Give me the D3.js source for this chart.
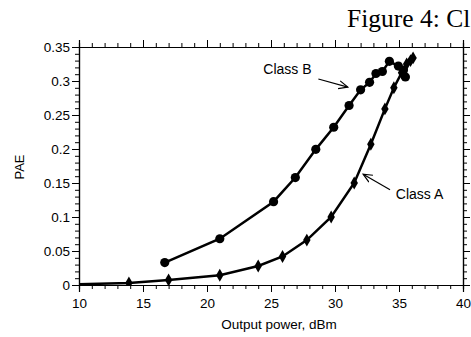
<!DOCTYPE html>
<html>
<head>
<meta charset="utf-8">
<script src="https://cdn.jsdelivr.net/npm/d3@7"></script>
<style>
  body { margin: 0; background: #fff; }
  svg { display: block; }
</style>
</head>
<body>
<div id="chart"></div>
<script>
// Class A (diamonds) and Class B (circles): output power in dBm, PAE
var classA_pout = [9, 13.9, 17.0, 21.0, 24.0, 25.9, 27.8, 29.7, 31.5, 32.8, 33.9, 34.6, 35.2, 35.6, 35.9, 36.1];
var classA_pae  = [0.0005, 0.003, 0.0074, 0.0143, 0.028, 0.042, 0.066, 0.100, 0.150, 0.207, 0.259, 0.290, 0.312, 0.325, 0.330, 0.334];
var classB_pout = [16.7, 21.0, 25.2, 26.9, 28.5, 29.9, 31.1, 32.0, 32.7, 33.2, 33.7, 34.25, 34.95, 35.35, 35.5];
var classB_pae  = [0.033, 0.068, 0.1225, 0.158, 0.1995, 0.232, 0.264, 0.287, 0.298, 0.311, 0.314, 0.329, 0.322, 0.316, 0.306];

var xTicks = [10, 15, 20, 25, 30, 35, 40];
var yTicks = [0, 0.05, 0.1, 0.15, 0.2, 0.25, 0.3, 0.35];

var W = 471, H = 337;
var margin = { left: 79, top: 47, right: 8, bottom: 52 };
var pw = W - margin.left - margin.right;
var ph = H - margin.top - margin.bottom;

var svg = d3.select('#chart').append('svg')
    .attr('width', W)
    .attr('height', H);

var xScale = d3.scaleLinear().domain([10, 40]).range([margin.left, margin.left + pw]);
var yScale = d3.scaleLinear().domain([0, 0.35]).range([margin.top + ph, margin.top]);

var sans = 'Arial, "Liberation Sans", Helvetica, sans-serif';

// title (cut off at the right edge like the original page)
svg.append('text')
    .attr('x', 347)
    .attr('y', 27)
    .style('font-family', '"Times New Roman", "Liberation Serif", serif')
    .style('font-size', '25.5px')
    .text('Figure 4: Cl');

var defs = svg.append('defs');
defs.append('clipPath')
    .attr('id', 'plotClip')
    .append('rect')
    .attr('x', margin.left)
    .attr('y', margin.top - 10)
    .attr('width', pw + 10)
    .attr('height', ph + 10);

// axes: major ticks labelled, minor ticks shorter, all pointing outward
var minorX = d3.range(10, 41, 1);
var minorY = d3.range(0, 0.3501, 0.01);

function tickFmt(d) { return d3.format('~g')(d); }

var gBottom = svg.append('g')
    .attr('transform', 'translate(0,' + (margin.top + ph) + ')');
gBottom.append('g').call(d3.axisBottom(xScale).tickValues(minorX).tickSize(4).tickFormat(''));
gBottom.append('g').call(d3.axisBottom(xScale).tickValues(xTicks).tickSize(7).tickPadding(6).tickFormat(tickFmt));

var gTop = svg.append('g')
    .attr('transform', 'translate(0,' + margin.top + ')');
gTop.append('g').call(d3.axisTop(xScale).tickValues(minorX).tickSize(4).tickFormat(''));
gTop.append('g').call(d3.axisTop(xScale).tickValues(xTicks).tickSize(7).tickFormat(''));

var gLeft = svg.append('g')
    .attr('transform', 'translate(' + margin.left + ',0)');
gLeft.append('g').call(d3.axisLeft(yScale).tickValues(minorY).tickSize(4).tickFormat(''));
gLeft.append('g').call(d3.axisLeft(yScale).tickValues(yTicks).tickSize(7).tickPadding(2).tickFormat(tickFmt));

var gRight = svg.append('g')
    .attr('transform', 'translate(' + (margin.left + pw) + ',0)');
gRight.append('g').call(d3.axisRight(yScale).tickValues(minorY).tickSize(4).tickFormat(''));
gRight.append('g').call(d3.axisRight(yScale).tickValues(yTicks).tickSize(7).tickFormat(''));

svg.selectAll('.domain').attr('stroke', '#000').attr('stroke-width', 1.2);
svg.selectAll('.tick line').attr('stroke', '#000').attr('stroke-width', 1);
svg.selectAll('.tick text')
    .style('font-family', sans)
    .style('font-size', '13.5px')
    .attr('fill', '#000');

// axis titles
svg.append('text')
    .attr('x', (margin.left + margin.left + pw) / 2 + 8)
    .attr('y', 329)
    .attr('text-anchor', 'middle')
    .style('font-family', sans)
    .style('font-size', '13.5px')
    .text('Output power, dBm');

svg.append('text')
    .attr('transform', 'translate(24,' + (margin.top + ph / 2 + 1) + ') rotate(-90)')
    .attr('text-anchor', 'middle')
    .style('font-family', sans)
    .style('font-size', '13px')
    .text('PAE');

// series
var line = d3.line()
    .x(function (d) { return xScale(d[0]); })
    .y(function (d) { return yScale(d[1]); });

var dataA = classA_pout.map(function (p, i) { return [p, classA_pae[i]]; });
var dataB = classB_pout.map(function (p, i) { return [p, classB_pae[i]]; });

var plot = svg.append('g').attr('clip-path', 'url(#plotClip)');

plot.append('path')
    .datum(dataA)
    .attr('d', line)
    .attr('fill', 'none')
    .attr('stroke', '#000')
    .attr('stroke-width', 2.5);

plot.append('path')
    .datum(dataB)
    .attr('d', line)
    .attr('fill', 'none')
    .attr('stroke', '#000')
    .attr('stroke-width', 2.5);

plot.selectAll('.ptA')
    .data(dataA)
    .enter()
    .append('path')
    .attr('class', 'ptA')
    .attr('transform', function (d) { return 'translate(' + xScale(d[0]) + ',' + yScale(d[1]) + ')'; })
    .attr('d', d3.symbol().type(d3.symbolDiamond).size(48))
    .attr('fill', '#000');

plot.selectAll('.ptB')
    .data(dataB)
    .enter()
    .append('circle')
    .attr('class', 'ptB')
    .attr('cx', function (d) { return xScale(d[0]); })
    .attr('cy', function (d) { return yScale(d[1]); })
    .attr('r', 4.6)
    .attr('fill', '#000');

// annotations with arrows
defs.append('marker')
    .attr('id', 'arrow')
    .attr('viewBox', '0 0 10 10')
    .attr('refX', 9)
    .attr('refY', 5)
    .attr('markerWidth', 10)
    .attr('markerHeight', 10)
    .attr('markerUnits', 'userSpaceOnUse')
    .attr('orient', 'auto')
    .append('path')
    .attr('d', 'M0,1 L9,5 L0,9')
    .attr('fill', 'none')
    .attr('stroke', '#000')
    .attr('stroke-width', 1.2);

var notes = [
    { text: 'Class B', tx: 24.4, ty: 0.310, x1: 28.7, y1: 0.303, x2: 31.0, y2: 0.291 },
    { text: 'Class A', tx: 34.75, ty: 0.1265, x1: 34.3, y1: 0.140, x2: 32.2, y2: 0.163 }
];

notes.forEach(function (n) {
    svg.append('text')
        .attr('x', xScale(n.tx))
        .attr('y', yScale(n.ty))
        .style('font-family', sans)
        .style('font-size', '14px')
        .text(n.text);
    svg.append('line')
        .attr('x1', xScale(n.x1))
        .attr('y1', yScale(n.y1))
        .attr('x2', xScale(n.x2))
        .attr('y2', yScale(n.y2))
        .attr('stroke', '#000')
        .attr('stroke-width', 1.2)
        .attr('marker-end', 'url(#arrow)');
});
</script>
</body>
</html>
